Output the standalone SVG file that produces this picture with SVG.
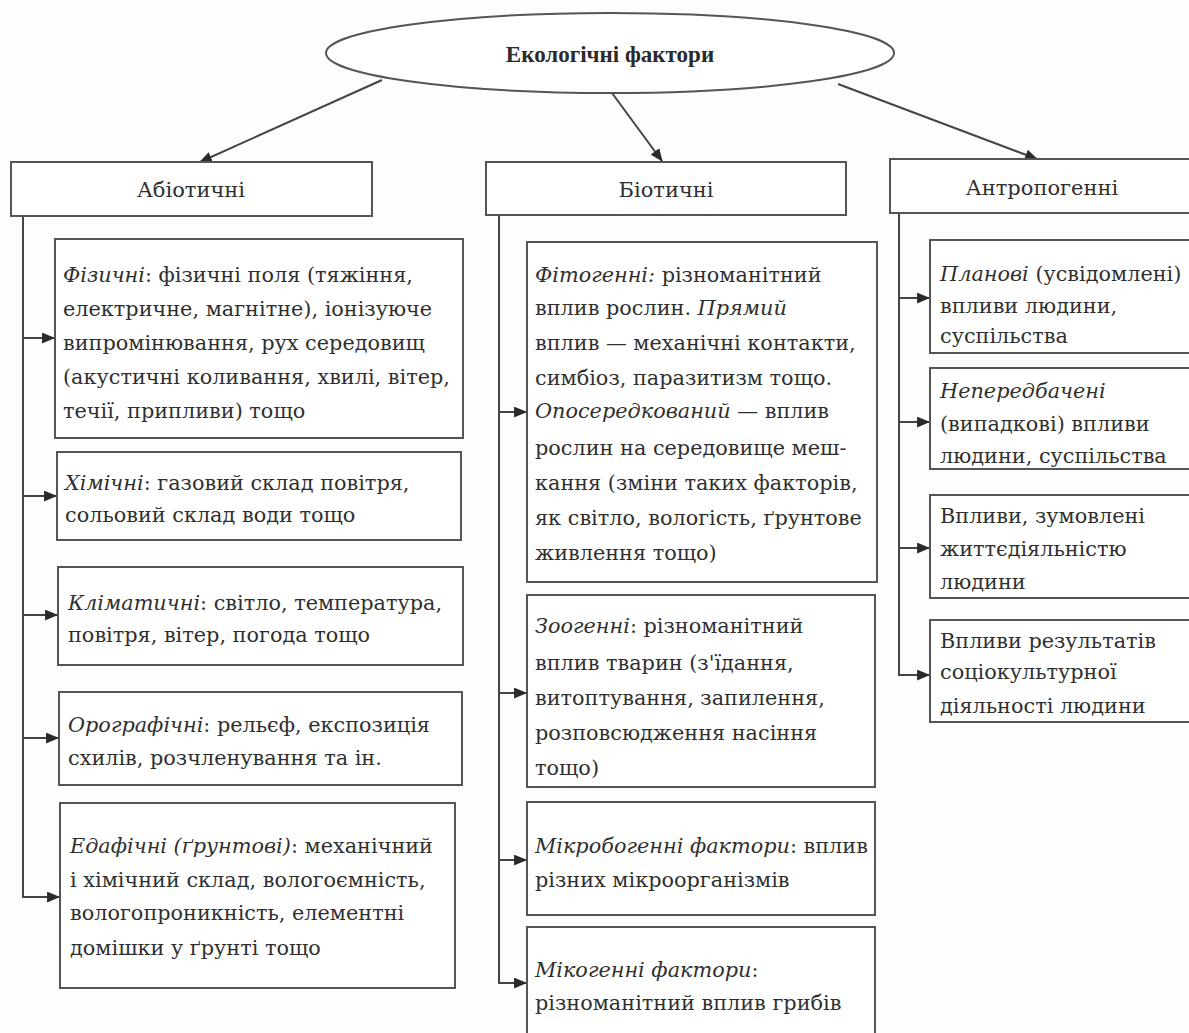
<svg xmlns="http://www.w3.org/2000/svg" width="1189" height="1033" viewBox="0 0 1189 1033">
<style>
.bg{fill:#fdfdfd}
.box{fill:#fff;stroke:#555;stroke-width:2}
.ln{fill:none;stroke:#444;stroke-width:2}
.t{font-family:"DejaVu Serif","Liberation Serif",serif;font-size:20.8px;fill:#2f2f2f}
.h{font-family:"DejaVu Serif","Liberation Serif",serif;font-size:21px;fill:#2f2f2f;text-anchor:middle}
.title{font-family:"Liberation Serif","DejaVu Serif",serif;font-size:23px;font-weight:bold;fill:#2a2a2a;text-anchor:middle}
.i{font-style:italic}
</style>
<defs>
<marker id="ah" viewBox="0 0 12 10" refX="11" refY="5" markerWidth="13" markerHeight="11" markerUnits="userSpaceOnUse" orient="auto">
<path d="M0,0 L12,5 L0,10 Z" fill="#2a2a2a"/>
</marker>
</defs>
<rect class="bg" x="0" y="0" width="1189" height="1033"/>

<g id="connectors">
<line class="ln" x1="382" y1="80" x2="200" y2="162" marker-end="url(#ah)"/>
<line class="ln" x1="612" y1="93" x2="662" y2="161" marker-end="url(#ah)"/>
<line class="ln" x1="838" y1="84" x2="1037" y2="159" marker-end="url(#ah)"/>
<polyline class="ln" points="23,216 23,897 59,897" marker-end="url(#ah)"/>
<line class="ln" x1="23" y1="338" x2="54" y2="338" marker-end="url(#ah)"/>
<line class="ln" x1="23" y1="496" x2="56" y2="496" marker-end="url(#ah)"/>
<line class="ln" x1="23" y1="615" x2="57" y2="615" marker-end="url(#ah)"/>
<line class="ln" x1="23" y1="738" x2="58" y2="738" marker-end="url(#ah)"/>
<polyline class="ln" points="499,215 499,983 526,983" marker-end="url(#ah)"/>
<line class="ln" x1="499" y1="412" x2="526" y2="412" marker-end="url(#ah)"/>
<line class="ln" x1="499" y1="693" x2="526" y2="693" marker-end="url(#ah)"/>
<line class="ln" x1="499" y1="860" x2="526" y2="860" marker-end="url(#ah)"/>
<polyline class="ln" points="899,213 899,675 929,675" marker-end="url(#ah)"/>
<line class="ln" x1="899" y1="298" x2="929" y2="298" marker-end="url(#ah)"/>
<line class="ln" x1="899" y1="422" x2="929" y2="422" marker-end="url(#ah)"/>
<line class="ln" x1="899" y1="548" x2="929" y2="548" marker-end="url(#ah)"/>
</g>

<g id="root">
<ellipse class="box" cx="610" cy="53" rx="284" ry="40"/>
<text class="title" x="610" y="62">Екологічні фактори</text>
</g>

<g id="abiotic">
<rect class="box" x="11" y="162" width="361" height="54"/>
<text class="h" x="191" y="197">Абіотичні</text>
</g>
<g id="biotic">
<rect class="box" x="486" y="162" width="360" height="53"/>
<text class="h" x="666" y="197">Біотичні</text>
</g>
<g id="anthropogenic">
<rect class="box" x="890" y="159" width="310" height="54"/>
<text class="h" x="1042" y="195">Антропогенні</text>
</g>

<g id="physical">
<rect class="box" x="55" y="239" width="408" height="199"/>
<text class="t" x="63" y="282"><tspan class="i">Фізичні</tspan>: фізичні поля (тяжіння,</text>
<text class="t" x="63" y="316">електричне, магнітне), іонізуюче</text>
<text class="t" x="63" y="350">випромінювання, рух середовищ</text>
<text class="t" x="63" y="384">(акустичні коливання, хвилі, вітер,</text>
<text class="t" x="63" y="418">течії, припливи) тощо</text>
</g>
<g id="chemical">
<rect class="box" x="57" y="452" width="404" height="88"/>
<text class="t" x="65" y="490"><tspan class="i">Хімічні</tspan>: газовий склад повітря,</text>
<text class="t" x="65" y="522">сольовий склад води тощо</text>
</g>
<g id="climatic">
<rect class="box" x="58" y="567" width="405" height="98"/>
<text class="t" x="68" y="610"><tspan class="i">Кліматичні</tspan>: світло, температура,</text>
<text class="t" x="68" y="642">повітря, вітер, погода тощо</text>
</g>
<g id="orographic">
<rect class="box" x="59" y="692" width="403" height="93"/>
<text class="t" x="68" y="732"><tspan class="i">Орографічні</tspan>: рельєф, експозиція</text>
<text class="t" x="68" y="765">схилів, розчленування та ін.</text>
</g>
<g id="edaphic">
<rect class="box" x="60" y="803" width="395" height="185"/>
<text class="t" x="70" y="853"><tspan class="i">Едафічні (ґрунтові)</tspan>: механічний</text>
<text class="t" x="70" y="887">і хімічний склад, вологоємність,</text>
<text class="t" x="70" y="920">вологопроникність, елементні</text>
<text class="t" x="70" y="955">домішки у ґрунті тощо</text>
</g>

<g id="phytogenic">
<rect class="box" x="527" y="242" width="350" height="340"/>
<text class="t" x="535" y="282"><tspan class="i">Фітогенні:</tspan> різноманітний</text>
<text class="t" x="535" y="315">вплив рослин. <tspan class="i">Прямий</tspan></text>
<text class="t" x="535" y="350">вплив — механічні контакти,</text>
<text class="t" x="535" y="385">симбіоз, паразитизм тощо.</text>
<text class="t" x="535" y="418"><tspan class="i">Опосередкований</tspan> — вплив</text>
<text class="t" x="535" y="455">рослин на середовище меш-</text>
<text class="t" x="535" y="490">кання (зміни таких факторів,</text>
<text class="t" x="535" y="525">як світло, вологість, ґрунтове</text>
<text class="t" x="535" y="560">живлення тощо)</text>
</g>
<g id="zoogenic">
<rect class="box" x="527" y="595" width="348" height="192"/>
<text class="t" x="535" y="633"><tspan class="i">Зоогенні</tspan>: різноманітний</text>
<text class="t" x="535" y="670">вплив тварин (з'їдання,</text>
<text class="t" x="535" y="705">витоптування, запилення,</text>
<text class="t" x="535" y="740">розповсюдження насіння</text>
<text class="t" x="535" y="775">тощо)</text>
</g>
<g id="microbogenic">
<rect class="box" x="527" y="802" width="348" height="113"/>
<text class="t" x="535" y="853"><tspan class="i">Мікробогенні фактори</tspan>: вплив</text>
<text class="t" x="535" y="887">різних мікроорганізмів</text>
</g>
<g id="mycogenic">
<rect class="box" x="527" y="927" width="348" height="120"/>
<text class="t" x="535" y="977"><tspan class="i">Мікогенні фактори</tspan>:</text>
<text class="t" x="535" y="1010">різноманітний вплив грибів</text>
</g>

<g id="planned">
<rect class="box" x="930" y="240" width="270" height="113"/>
<text class="t" x="940" y="281"><tspan class="i">Планові</tspan> (усвідомлені)</text>
<text class="t" x="940" y="313">впливи людини,</text>
<text class="t" x="940" y="343">суспільства</text>
</g>
<g id="unforeseen">
<rect class="box" x="930" y="368" width="270" height="101"/>
<text class="t" x="940" y="398" font-style="italic">Непередбачені</text>
<text class="t" x="940" y="431">(випадкові) впливи</text>
<text class="t" x="940" y="463">людини, суспільства</text>
</g>
<g id="vital">
<rect class="box" x="930" y="495" width="270" height="103"/>
<text class="t" x="940" y="523">Впливи, зумовлені</text>
<text class="t" x="940" y="556">життєдіяльністю</text>
<text class="t" x="940" y="589">людини</text>
</g>
<g id="sociocultural">
<rect class="box" x="930" y="620" width="270" height="102"/>
<text class="t" x="940" y="648">Впливи результатів</text>
<text class="t" x="940" y="679">соціокультурної</text>
<text class="t" x="940" y="713">діяльності людини</text>
</g>
</svg>
